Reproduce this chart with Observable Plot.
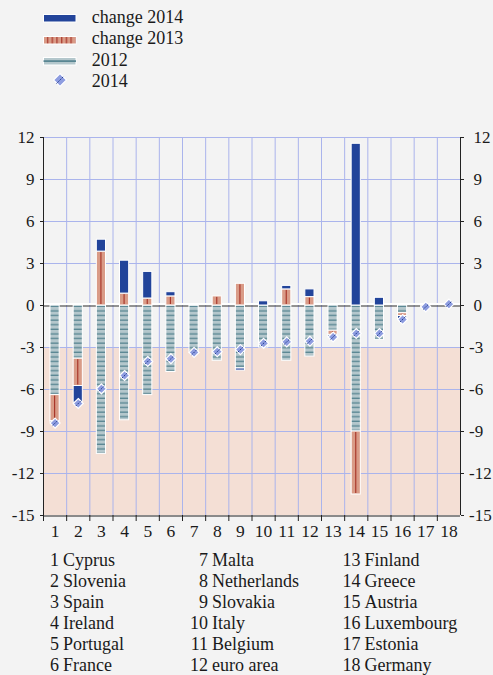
<!DOCTYPE html>
<html><head><meta charset="utf-8">
<script src="https://cdn.jsdelivr.net/npm/d3@7"></script>
<script src="https://cdn.jsdelivr.net/npm/@observablehq/plot@0.6"></script>
<style>
html,body{margin:0;padding:0;background:#f3f3f3;}
#wrap{position:relative;width:493px;height:675px;overflow:hidden;background:#f3f3f3;font-family:"Liberation Serif","Times New Roman",serif;color:#1a1a1a;}
#legend{position:absolute;left:0;top:0;}
#chart{position:absolute;left:0;top:100px;}
#names{position:absolute;left:0;top:540px;}
svg text{font-family:"Liberation Serif","Times New Roman",serif;}
</style></head><body>
<div id="wrap">
<svg id="legend" width="493" height="100"></svg>
<div id="chart"></div>
<svg id="names" width="493" height="135"></svg>
</div>
<script>
// ---- data ----
const countries = ["Cyprus","Slovenia","Spain","Ireland","Portugal","France","Malta","Netherlands","Slovakia","Italy","Belgium","euro area","Finland","Greece","Austria","Luxembourg","Estonia","Germany"];
const level2012 = [-6.4, -3.8, -10.6, -8.2, -6.4, -4.75, -3.4, -3.95, -4.5, -3.0, -3.95, -3.65, -1.8, -9.0, -2.45, -0.55, 0, 0];
const change2013 = [-1.85, -1.95, 3.85, 0.85, 0.5, 0.65, 0.05, 0.65, 1.55, 0, 1.15, 0.6, -0.3, -4.5, 0, -0.2, -0.15, 0];
const change2014 = [-0.1, -1.2, 0.85, 2.35, 1.9, 0.3, 0, 0, -0.15, 0.3, 0.25, 0.55, -0.15, 11.55, 0.55, -0.25, 0, 0];
const value2014 = [-8.4, -7.0, -5.95, -5.0, -4.0, -3.8, -3.35, -3.3, -3.15, -2.7, -2.6, -2.55, -2.25, -2.0, -2.0, -1.0, -0.1, 0.1];
const yTicks = [12, 9, 6, 3, 0, -3, -6, -9, -12, -15];
const yGrid = [12, 9, 6, 3, -3, -6, -9, -12];
const shadeRange = [-3, -15];
const legendLabels = ["change 2014", "change 2013", "2012", "2014"];

// colours
const C14 = "#22449a", C13 = "#d99b87", C13line = "#a8362a", C12 = "#b4c7cc", C12line = "#4f7f8c";
const CDIA = "#8e9de0", GRID = "#aab4ec", SHADE = "#f4dfd5";
const FONT = "Liberation Serif";

// ---- derived ----
const nums = countries.map((_, i) => i + 1);
const xDomain = [0.5, countries.length + 0.5];
const boundaries = d3.range(0.5, countries.length + 1, 1);
const inner = boundaries.slice(1, -1);
const series = [
  {key: "2012", values: level2012},
  {key: "c13", values: change2013},
  {key: "c14", values: change2014}
];
const rows = [];
countries.forEach((c, k) => {
  let pos = 0, neg = 0;
  series.forEach(s => {
    const v = s.values[k];
    if (!v) return;
    let y1, y2;
    if (v > 0) { y1 = pos; y2 = pos + v; pos = y2; } else { y1 = neg; y2 = neg + v; neg = y2; }
    rows.push({n: k + 1, key: s.key, y1, y2});
  });
});
const of = key => rows.filter(r => r.key === key);
const points = value2014.map((v, i) => ({n: i + 1, v}));
const fmt = d => String(d);

const slash = {draw(ctx, size) { const r = Math.sqrt(size / Math.PI); const a = r * 0.55; ctx.moveTo(-a, a); ctx.lineTo(a, -a); }};

const barOpts = {x1: d => d.n - 0.5, x2: d => d.n + 0.5, y1: "y1", y2: "y2", insetLeft: 7, insetRight: 7, stroke: "white", strokeWidth: 1};

const plot = Plot.plot({
  width: 493, height: 445,
  marginTop: 37, marginBottom: 30, marginLeft: 43, marginRight: 33,
  x: {domain: xDomain, label: null},
  y: {domain: [-15, 12], label: null},
  style: {background: "transparent", fontFamily: "Liberation Serif, Times New Roman, serif", fontSize: "17px", color: "#1a1a1a", overflow: "visible"},
  marks: [
    Plot.rect([shadeRange], {y1: d => d[0], y2: d => d[1], fill: SHADE}),
    Plot.gridX(inner, {stroke: GRID, strokeOpacity: 1, strokeWidth: 1}),
    Plot.gridY(yGrid, {stroke: GRID, strokeOpacity: 1, strokeWidth: 1}),
    Plot.ruleY([0], {stroke: "white", strokeWidth: 2, dy: -1.5}),
    Plot.ruleY([0], {stroke: "#333", strokeWidth: 1, dy: 0.5}),
    Plot.rect(of("2012"), {...barOpts, fill: "url(#p2012)"}),
    Plot.rect(of("c13"), {...barOpts, fill: C13}),
    Plot.rect(of("c13"), {x1: d => d.n - 0.5, x2: d => d.n + 0.5, y1: "y1", y2: "y2", insetLeft: 11, insetRight: 11, insetTop: 1, insetBottom: 1, fill: C13line}),
    Plot.rect(of("c14"), {...barOpts, fill: C14}),
    Plot.dot(points, {x: "n", y: "v", symbol: "diamond2", r: 4.5, fill: CDIA, stroke: "white", strokeWidth: 1.2}),
    Plot.dot(points, {x: "n", y: "v", symbol: slash, r: 4.5, fill: "none", stroke: "#1f3a8f", strokeWidth: 1, strokeDasharray: "1.6,1"}),
    Plot.ruleX(xDomain, {y1: -15, y2: 12, stroke: "#222", strokeWidth: 1}),
    Plot.ruleY([-15], {stroke: "#222", strokeWidth: 1, dy: 0.5}),
    Plot.axisY(yTicks, {anchor: "left", tickSize: 3, tickPadding: 6, fontSize: 17, fontFamily: FONT, stroke: "#222", tickFormat: fmt, label: null}),
    Plot.axisY(yTicks.filter(d => d >= 0), {anchor: "right", tickSize: 3, tickPadding: 10, fontSize: 17, fontFamily: FONT, stroke: "#222", tickFormat: fmt, label: null}),
    Plot.axisY(yTicks.filter(d => d < 0), {anchor: "right", tickSize: 3, tickPadding: 5.5, fontSize: 17, fontFamily: FONT, stroke: "#222", tickFormat: fmt, label: null}),
    Plot.axisX(boundaries.slice(0, -1), {tickSize: 6, tickFormat: () => "", stroke: "#222", label: null}),
    Plot.axisX(nums, {tickSize: 0, tickPadding: 9, fontSize: 17.5, fontFamily: FONT, tickFormat: fmt, label: null})
  ]
});
d3.select(plot).insert("defs", ":first-child").html(
  `<pattern id="p2012" patternUnits="userSpaceOnUse" width="10" height="4.6">
     <rect width="10" height="4.6" fill="${C12}"/>
     <rect y="3.3" width="10" height="1.2" fill="${C12line}"/>
   </pattern>`);
d3.select(plot).selectAll("text").style("font-family", "'Liberation Serif', 'Times New Roman', serif").style("font-variant", "normal");
document.getElementById("chart").appendChild(plot);

// ---- legend ----
const lg = d3.select("#legend");
lg.append("defs").html(
  `<pattern id="lg13" patternUnits="userSpaceOnUse" width="4.7" height="10" x="45">
     <rect width="4.7" height="10" fill="${C13}"/>
     <rect x="2" width="1.2" height="10" fill="${C13line}"/>
   </pattern>`);
const baselines = [22.7, 44.3, 65.5, 87.3];
legendLabels.forEach((t, i) => {
  lg.append("text").attr("x", 91.7).attr("y", baselines[i]).attr("font-size", 18).attr("fill", "#1a1a1a").text(t);
});
lg.append("rect").attr("x", 43.5).attr("y", 14.5).attr("width", 32.5).attr("height", 7.5).attr("fill", C14).attr("stroke", "white");
lg.append("rect").attr("x", 43.5).attr("y", 36.5).attr("width", 32.5).attr("height", 7.5).attr("fill", "url(#lg13)").attr("stroke", "white");
lg.append("rect").attr("x", 43.5).attr("y", 57.5).attr("width", 32.5).attr("height", 7.5).attr("fill", C12).attr("stroke", "white");
lg.append("rect").attr("x", 43.5).attr("y", 60.3).attr("width", 32.5).attr("height", 1.6).attr("fill", C12line);
lg.append("path").attr("d", "M60,73.5L66.5,80L60,86.5L53.5,80Z").attr("fill", CDIA).attr("stroke", "white").attr("stroke-width", 1.2);
lg.append("path").attr("d", "M56.5,83.5L63.5,76.5").attr("stroke", "#1f3a8f").attr("stroke-dasharray", "1.6,1");

// ---- country key ----
const nm = d3.select("#names");
const colNumX = [59, 208, 360.5];
const rowY = [25.8, 46.8, 67.8, 88.8, 109.8, 130.6];
countries.forEach((c, i) => {
  const col = Math.floor(i / 6), row = i % 6;
  nm.append("text").attr("x", colNumX[col]).attr("y", rowY[row]).attr("text-anchor", "end").attr("font-size", 18).attr("fill", "#1a1a1a").text(i + 1);
  nm.append("text").attr("x", colNumX[col] + 4).attr("y", rowY[row]).attr("font-size", 18).attr("fill", "#1a1a1a").text(c);
});
</script>
</body></html>
